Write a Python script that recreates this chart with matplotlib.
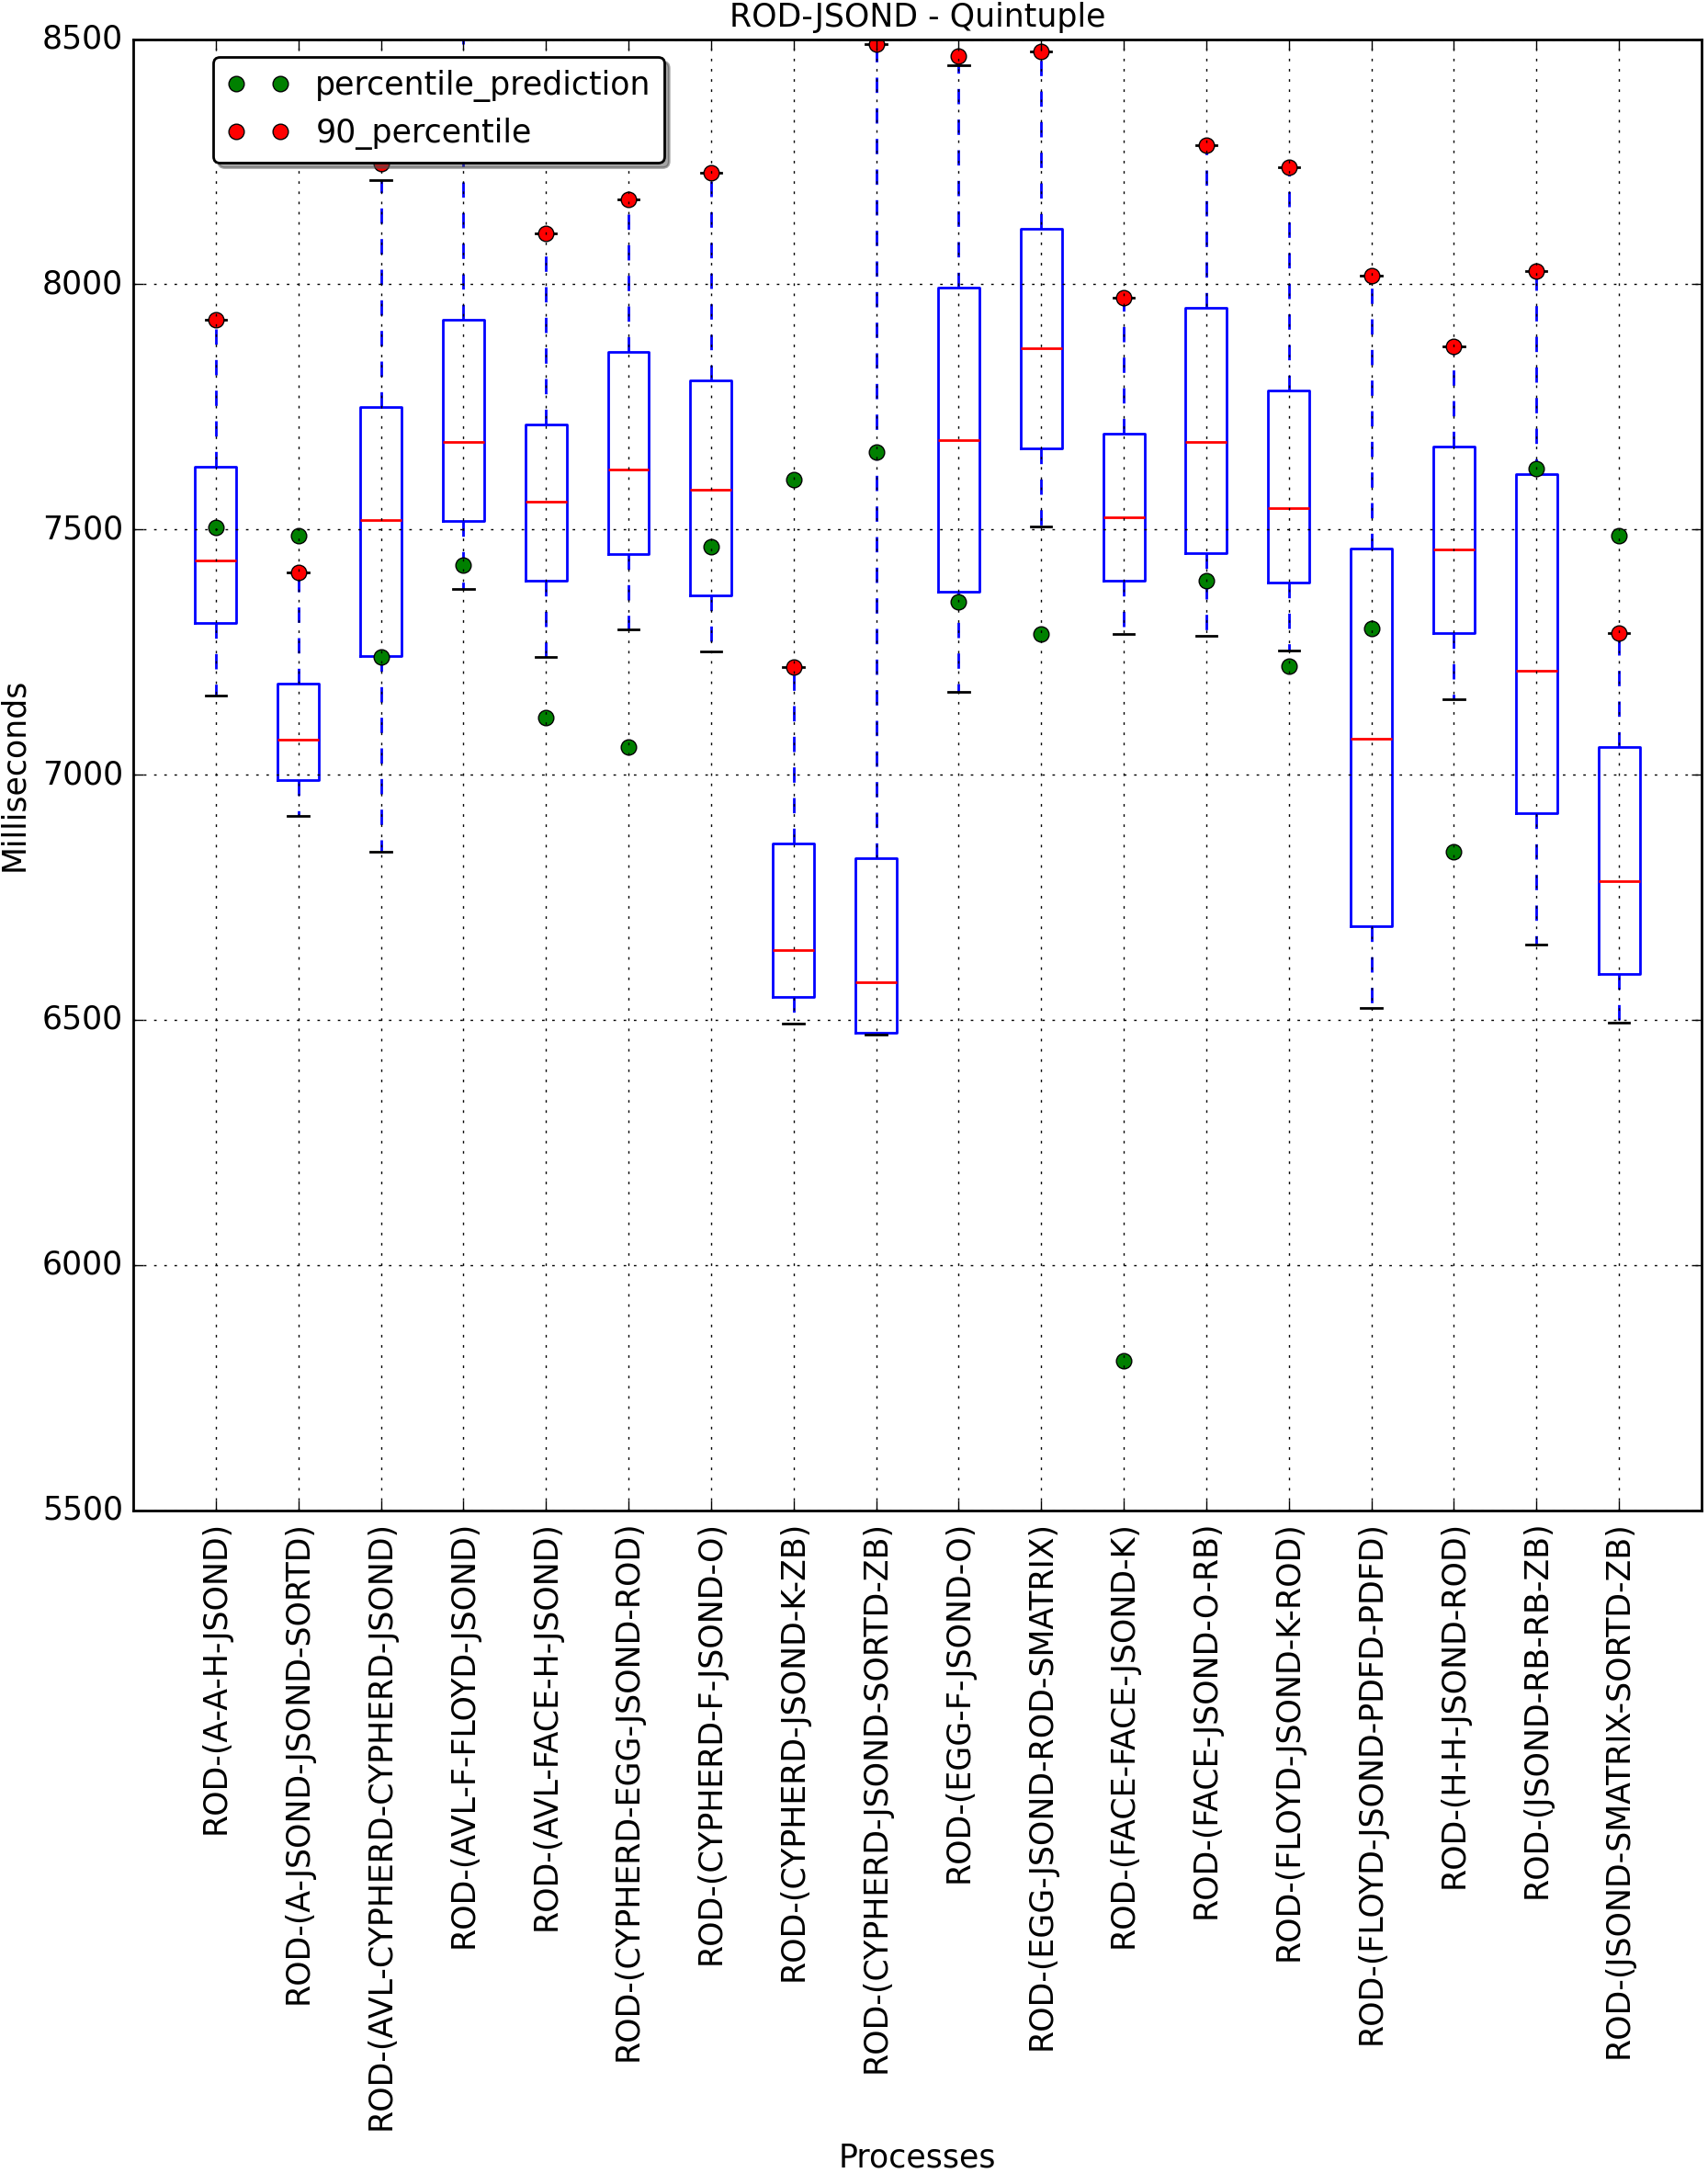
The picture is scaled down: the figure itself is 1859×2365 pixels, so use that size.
import numpy as np
from matplotlib import pyplot as plt

# ---------------- data ----------------
processes = ["ROD-(A-A-H-JSOND)", "ROD-(A-JSOND-JSOND-SORTD)",
             "ROD-(AVL-CYPHERD-CYPHERD-JSOND)", "ROD-(AVL-F-FLOYD-JSOND)",
             "ROD-(AVL-FACE-H-JSOND)", "ROD-(CYPHERD-EGG-JSOND-ROD)",
             "ROD-(CYPHERD-F-JSOND-O)", "ROD-(CYPHERD-JSOND-K-ZB)",
             "ROD-(CYPHERD-JSOND-SORTD-ZB)", "ROD-(EGG-F-JSOND-O)",
             "ROD-(EGG-JSOND-ROD-SMATRIX)", "ROD-(FACE-FACE-JSOND-K)",
             "ROD-(FACE-JSOND-O-RB)", "ROD-(FLOYD-JSOND-K-ROD)",
             "ROD-(FLOYD-JSOND-PDFD-PDFD)", "ROD-(H-H-JSOND-ROD)",
             "ROD-(JSOND-RB-RB-ZB)", "ROD-(JSOND-SMATRIX-SORTD-ZB)"]

q1 = [7309, 6989, 7242, 7518, 7395, 7449, 7366, 6547, 6474,
      7374, 7665, 7395, 7451, 7392, 6692, 7289, 6921, 6593]
medians = [7436, 7072, 7520, 7678, 7557, 7622, 7582, 6643, 6577,
           7683, 7870, 7524, 7678, 7543, 7074, 7460, 7212, 6783]
q3 = [7627, 7185, 7750, 7927, 7714, 7863, 7804, 6860, 6830,
      7994, 8113, 7696, 7953, 7784, 7461, 7669, 7612, 7057]
whis_low = [7162, 6915, 6843, 7378, 7240, 7297, 7251, 6492, 6470,
            7169, 7506, 7286, 7283, 7254, 6524, 7154, 6654, 6495]
whis_high = [7927, 7413, 8212, 8560, 8103, 8174, 8228, 7219, 8490,
             8446, 8475, 7973, 8284, 8238, 8017, 7874, 8027, 7289]

percentile_prediction = [7504, 7487, 7240, 7427, 7117, 7057, 7464, 7601, 7657,
                         7352, 7286, 5805, 7395, 7221, 7298, 6843, 7624, 7488]
percentile_90 = [7927, 7413, 8246, 8560, 8103, 8174, 8228, 7219, 8490,
                 8466, 8475, 7973, 8284, 8238, 8017, 7874, 8027, 7289]

# ---------------- plot ----------------
plt.style.use("classic")
plt.rcParams["font.size"] = 12.5

fig = plt.figure(figsize=(18.59 / 2, 23.65 / 2), dpi=200, facecolor="white")
ax = fig.add_axes([0.078, 0.305, 0.9182, 0.677])

positions = np.arange(1, len(processes) + 1)
stats = []
for i in range(len(processes)):
    stats.append({"q1": q1[i], "med": medians[i], "q3": q3[i],
                  "whislo": whis_low[i], "whishi": whis_high[i],
                  "fliers": []})

ax.bxp(stats, positions=positions, widths=0.5, showfliers=False)

ax.plot(positions, percentile_prediction, "go", label="percentile_prediction")
ax.plot(positions, percentile_90, "ro", label="90_percentile")

ax.set_xlim(0, len(processes) + 1)
ax.set_ylim(5500, 8500)
ax.set_yticks(np.arange(5500, 8501, 500))
ax.set_xticks(positions)
ax.set_xticklabels(processes, rotation=90, fontsize=12.5)
ax.tick_params(axis="y", labelsize=12.5)

ax.grid(True)
ax.set_title("ROD-JSOND - Quintuple", fontsize=12.5)
ax.set_xlabel("Processes", fontsize=12.5)
ax.set_ylabel("Milliseconds", fontsize=12.5)

ax.legend(loc="upper left", bbox_to_anchor=(0.0511, 0.988), borderaxespad=0,
          numpoints=2, fancybox=True, shadow=True, fontsize=12.5)

fig.savefig("out.png", dpi=200, facecolor="white")
